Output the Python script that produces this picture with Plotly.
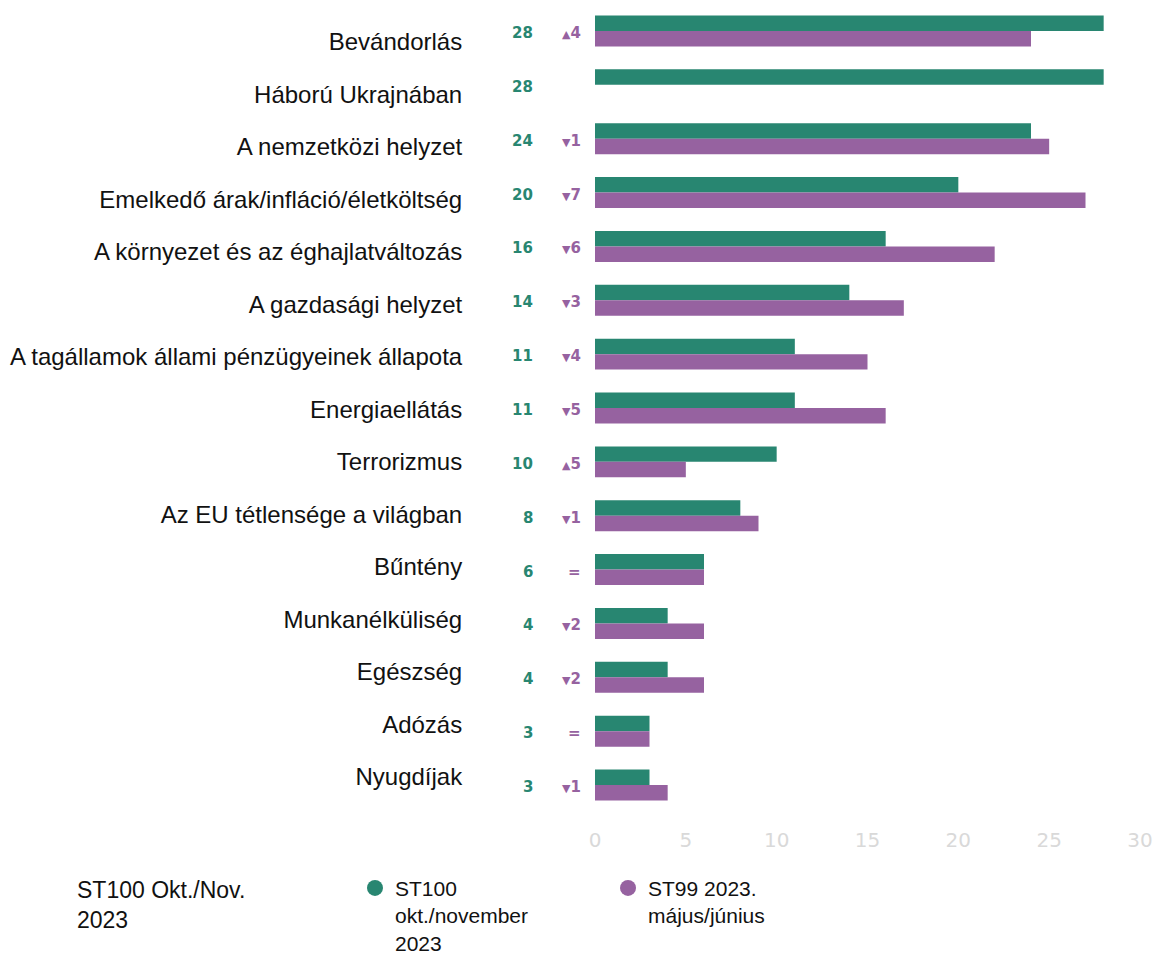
import plotly.graph_objects as go

categories = [
    "Bevándorlás", "Háború Ukrajnában", "A nemzetközi helyzet",
    "Emelkedő árak/infláció/életköltség", "A környezet és az éghajlatváltozás",
    "A gazdasági helyzet", "A tagállamok állami pénzügyeinek állapota",
    "Energiaellátás", "Terrorizmus", "Az EU tétlensége a világban",
    "Bűntény", "Munkanélküliség", "Egészség", "Adózás", "Nyugdíjak",
]
st100 = [28, 28, 24, 20, 16, 14, 11, 11, 10, 8, 6, 4, 4, 3, 3]
st99 = [24, None, 25, 27, 22, 17, 15, 16, 5, 9, 6, 6, 6, 3, 4]
x_ticks = [0, 5, 10, 15, 20, 25, 30]

name_st100 = "ST100<br>okt./november<br>2023"
name_st99 = "ST99 2023.<br>május/június"
legend_title = "ST100 Okt./Nov.<br>2023"

GREEN = "#288671"
PURPLE = "#9662a0"

idx = list(range(len(categories)))

fig = go.Figure()
fig.add_trace(go.Bar(y=idx, x=st100, orientation="h", marker=dict(color=GREEN, line=dict(width=0)),
                     showlegend=False, hoverinfo="skip"))
fig.add_trace(go.Bar(y=idx, x=st99, orientation="h", marker=dict(color=PURPLE, line=dict(width=0)),
                     showlegend=False, hoverinfo="skip"))
# legend entries with circle markers
fig.add_trace(go.Scatter(x=[None], y=[None], mode="markers", name=name_st100,
                         marker=dict(color=GREEN, size=18, symbol="circle"), legend="legend"))
fig.add_trace(go.Scatter(x=[None], y=[None], mode="markers", name=name_st99,
                         marker=dict(color=PURPLE, size=18, symbol="circle"), legend="legend2"))
# invisible trace for the category label axis
fig.add_trace(go.Scatter(x=[0] * len(idx), y=idx, yaxis="y2", mode="none",
                         showlegend=False, hoverinfo="skip"))

annotations = []
for i, (g, p) in enumerate(zip(st100, st99)):
    annotations.append(dict(
        x=-0.110, xref="paper", y=i, yref="y", yshift=-2,
        text=str(g), showarrow=False, xanchor="right", yanchor="middle",
        font=dict(family="DejaVu Sans", size=15, color=GREEN, weight=700)))
    if p is None:
        ch = ""
    else:
        d = g - p
        if d > 0:
            ch = "<span style='font-size:11px'>▲</span>" + str(d)
        elif d < 0:
            ch = "<span style='font-size:11px'>▼</span>" + str(-d)
        else:
            ch = "="
    if ch:
        annotations.append(dict(
            x=-0.022, xref="paper", y=i, yref="y", yshift=-2,
            text=ch, showarrow=False, xanchor="right", yanchor="middle",
            font=dict(family="DejaVu Sans", size=15, color=PURPLE, weight=700)))

annotations.append(dict(
    x=-0.955, xref="paper", y=-0.078, yref="paper", text=legend_title,
    showarrow=False, xanchor="left", yanchor="top", align="left",
    font=dict(family="Arial", size=23, color="#111111")))

fig.update_layout(
    width=1158, height=955,
    margin=dict(l=595, r=18, t=4, b=143, autoexpand=False),
    paper_bgcolor="white", plot_bgcolor="white",
    barmode="group", bargap=0.425, bargroupgap=0,
    xaxis=dict(range=[0, 30], tickvals=x_ticks, showgrid=False, zeroline=False,
               showline=False, ticks="outside", ticklen=10, tickcolor="rgba(0,0,0,0)",
               tickfont=dict(family="DejaVu Sans", size=20, color="#d9d9d9")),
    yaxis=dict(range=[14.5, -0.5], showticklabels=False, showgrid=False,
               zeroline=False, showline=False),
    yaxis2=dict(overlaying="y", range=[14.667, -0.724], tickmode="array",
                tickvals=idx, ticktext=categories, showgrid=False, zeroline=False,
                showline=False, ticks="outside", ticklen=127,
                tickcolor="rgba(0,0,0,0)", side="left",
                tickfont=dict(family="Arial", size=24, color="#111111")),
    legend=dict(x=-0.4404, xanchor="left", y=-0.069, yanchor="top",
                valign="top", font=dict(family="Arial", size=21, color="#111111"),
                bgcolor="rgba(0,0,0,0)", itemsizing="trace"),
    legend2=dict(x=0.0239, xanchor="left", y=-0.069, yanchor="top",
                 valign="top", font=dict(family="Arial", size=21, color="#111111"),
                 bgcolor="rgba(0,0,0,0)", itemsizing="trace"),
    annotations=annotations,
    showlegend=True,
)

fig.write_html("out.html", config={"displayModeBar": False},
               post_script="document.body.style.margin='0';")
